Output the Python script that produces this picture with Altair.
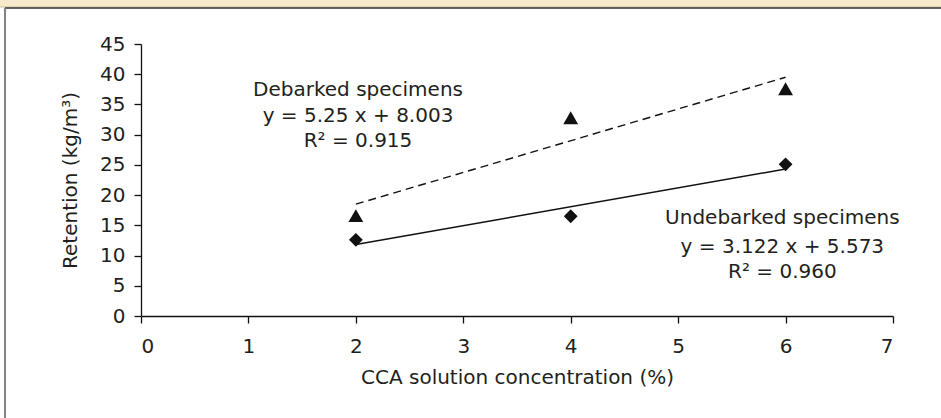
import altair as alt
import pandas as pd

# ---- data ----
conc = [2, 4, 6]
debarked = [16.6, 32.8, 37.6]
undebarked = [12.6, 16.5, 25.1]

x_ticks = [0, 1, 2, 3, 4, 5, 6, 7]
y_ticks = [0, 5, 10, 15, 20, 25, 30, 35, 40, 45]

deb_lines = ["Debarked specimens", "y = 5.25 x + 8.003", "R\u00b2 = 0.915"]
und_lines = ["Undebarked specimens", "y = 3.122 x + 5.573", "R\u00b2 = 0.960"]

FONT = "DejaVu Sans"
INK = "#231f20"

df = pd.DataFrame({
    "x": conc * 2,
    "y": debarked + undebarked,
    "series": ["Debarked"] * 3 + ["Undebarked"] * 3,
})

xs = alt.Scale(domain=[0, 7], nice=False)
ys = alt.Scale(domain=[0, 45], nice=False)

ax_x = alt.Axis(title="CCA solution concentration (%)", values=x_ticks, format="d",
                grid=False, tickSize=7, labelPadding=13, titlePadding=11,
                labelOverlap=False)
ax_y = alt.Axis(title="Retention (kg/m\u00b3)", values=y_ticks, format="d",
                grid=False, tickSize=7, labelPadding=9, titlePadding=19,
                labelOverlap=False)

X = alt.X("x:Q", scale=xs, axis=ax_x)
Y = alt.Y("y:Q", scale=ys, axis=ax_y)

base = alt.Chart(df)

pts_deb = base.transform_filter(alt.datum.series == "Debarked").mark_point(
    shape="triangle-up", filled=True, color="#111", size=220, opacity=1
).encode(x=X, y=Y)
pts_und = base.transform_filter(alt.datum.series == "Undebarked").mark_point(
    shape="diamond", filled=True, color="#111", size=190, opacity=1
).encode(x=X, y=Y)

reg_deb = base.transform_filter(alt.datum.series == "Debarked").transform_regression(
    "x", "y").mark_line(color="#111", strokeWidth=1.4, strokeDash=[8, 5]).encode(x=X, y=Y)
reg_und = base.transform_filter(alt.datum.series == "Undebarked").transform_regression(
    "x", "y").mark_line(color="#111", strokeWidth=1.5).encode(x=X, y=Y)

one = alt.Chart(pd.DataFrame({"k": [0]}))


def text_block(lines, xv, yvs):
    layers = []
    for t, yv in zip(lines, yvs):
        layers.append(one.mark_text(
            text=t, font=FONT, fontSize=20, color=INK, align="center", baseline="middle"
        ).encode(x=alt.XDatum(xv, type="quantitative", scale=xs, axis=ax_x),
                 y=alt.YDatum(yv, type="quantitative", scale=ys, axis=ax_y)))
    return layers

ann = text_block(deb_lines, 2.02, [37.4, 33.1, 29.0]) + \
    text_block(und_lines, 5.97, [16.2, 11.4, 7.3])

# decorations (frame of the figure)
band = one.mark_rect(color="#f6eacb").encode(
    x=alt.value(-141), x2=alt.value(800), y=alt.value(-44), y2=alt.value(-37))
band_edge = one.mark_rule(color="#cdbf9a", strokeWidth=1).encode(
    x=alt.value(-141), x2=alt.value(800), y=alt.value(-37))
top_line = one.mark_rule(color="#333333", strokeWidth=1.6).encode(
    x=alt.value(-136), x2=alt.value(800), y=alt.value(-36))
left_line = one.mark_rule(color="#777777", strokeWidth=1.8).encode(
    x=alt.value(-136), y=alt.value(-36), y2=alt.value(374))

chart = alt.layer(
    reg_deb, reg_und, pts_deb, pts_und, *ann,
    band, band_edge, top_line, left_line,
).properties(
    width=752, height=272,
    autosize=alt.AutoSizeParams(type="none"),
    padding={"left": 141, "top": 44, "right": 48, "bottom": 102},
    background="white",
).configure_view(stroke=None).configure_axis(
    domainColor="#111", tickColor="#111", domainWidth=1.3, tickWidth=1.3,
    labelFont=FONT, labelFontSize=20, labelColor=INK,
    titleFont=FONT, titleFontSize=20, titleFontWeight="normal", titleColor=INK,
)

chart.save("out.html", embed_options={"renderer": "svg", "actions": False})
